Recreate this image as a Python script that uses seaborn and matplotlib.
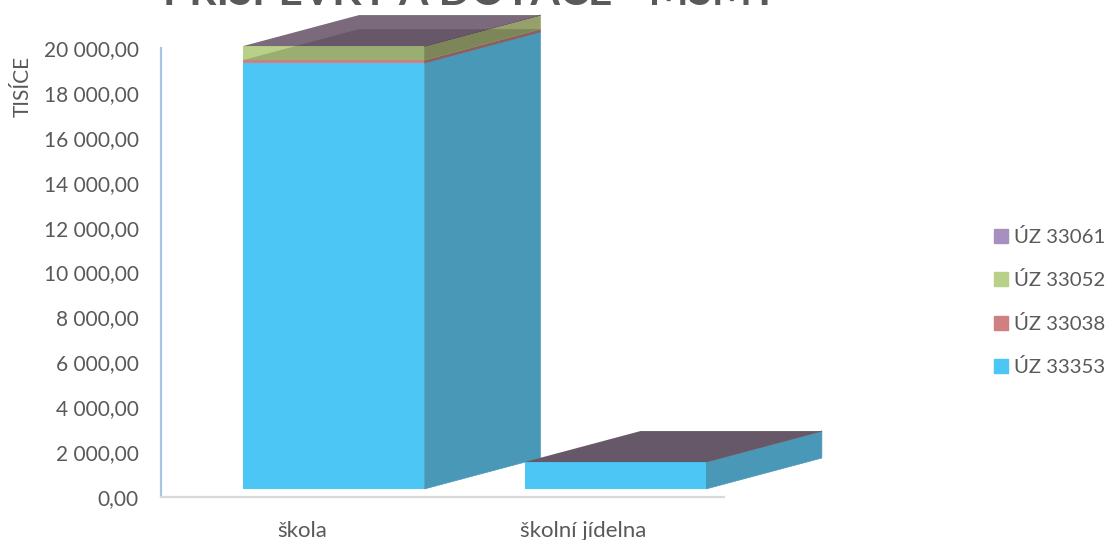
import matplotlib
matplotlib.use("Agg")
import matplotlib.pyplot as plt
from matplotlib.patches import Patch
import seaborn as sns

# Values
categories = ["škola", "školní jídelna"]
uz_33353 = [18975, 1200]
uz_33038 = [130, 0]
uz_33052 = [620, 0]
uz_33061 = [5, 0]
series_names = ["ÚZ 33353", "ÚZ 33038", "ÚZ 33052", "ÚZ 33061"]
y_ticks = [0, 2000, 4000, 6000, 8000, 10000, 12000, 14000, 16000, 18000, 20000]
y_tick_labels = ["0,00", "2 000,00", "4 000,00", "6 000,00", "8 000,00", "10 000,00",
                 "12 000,00", "14 000,00", "16 000,00", "18 000,00", "20 000,00"]

front_colors = ["#4BC6F5", "#D08080", "#B9D088", "#A78FC0"]
side_colors = ["#4A98B8", "#8C5E5E", "#95A06A", "#6B5B6E"]
top_color = "#7A6A7C"
text_color = "#595959"

W, H = 1108, 540
sns.set_theme(style="white")
plt.rcParams["font.family"] = ["Lato", "DejaVu Sans"]

fig = plt.figure(figsize=(W / 100, H / 100), dpi=100)


def px_rect(x0, x1, y_top, y_bottom):
    return [x0 / W, 1 - y_bottom / H, (x1 - x0) / W, (y_bottom - y_top) / H]


# Back plane carries the axes, front plane carries the bars
ax = fig.add_axes(px_rect(161, 724, 48, 497))
ax_bar = fig.add_axes(px_rect(193, 756, 40, 489))
ax_bar.patch.set_alpha(0)

series = [uz_33353, uz_33038, uz_33052, uz_33061]
bar_width = 0.644
depth_x = 0.412
depth_y = 1380

bottoms = [0, 0]
for vals, color, side in zip(series, front_colors, side_colors):
    sns.barplot(x=categories, y=vals, bottom=bottoms, color=color, saturation=1,
                width=bar_width, linewidth=0, zorder=2, ax=ax_bar)
    for i, v in enumerate(vals):
        right = i + bar_width / 2
        # side face of this segment
        ax_bar.fill([right, right + depth_x, right + depth_x, right],
                    [bottoms[i], bottoms[i] + depth_y, bottoms[i] + v + depth_y, bottoms[i] + v],
                    color=side, lw=0.5, zorder=1, clip_on=False)
    bottoms = [b + v for b, v in zip(bottoms, vals)]

for i in range(len(categories)):
    left = i - bar_width / 2
    right = i + bar_width / 2
    # top face of the whole stack
    total = bottoms[i]
    ax_bar.fill([left, right, right + depth_x, left + depth_x],
                [total, total, total + depth_y, total + depth_y],
                color=top_color, lw=0, zorder=3, clip_on=False)
    # top face of the lower segments shows through as a darker shade
    lower = uz_33353[i] + uz_33038[i]
    ax_bar.fill([left, right, right + depth_x, left + depth_x],
                [lower, lower, lower + depth_y, lower + depth_y],
                color="black", alpha=0.16, lw=0, zorder=4, clip_on=False)

ax_bar.set_xlim(-0.5, 1.5)
ax_bar.set_ylim(0, 20000)
ax_bar.axis("off")

ax.set_xlim(-0.5, 1.5)
ax.set_ylim(0, 20000)
ax.set_xticks([0, 1], categories)
ax.set_yticks(y_ticks, y_tick_labels)
ax.tick_params(axis="x", length=0, pad=17, labelsize=16, labelcolor=text_color)
ax.tick_params(axis="y", length=0, pad=16, labelsize=15, labelcolor=text_color)
ax.set_ylabel("TISÍCE", fontsize=15, color=text_color)
ax.yaxis.set_label_coords(-0.227, 0.915)
ax.patch.set_alpha(0)
sns.despine(ax=ax)
ax.spines["left"].set_color("#A9C4E4")
ax.spines["left"].set_linewidth(1.6)
ax.spines["bottom"].set_color("#D9D9D9")
ax.spines["bottom"].set_linewidth(1.6)

handles = [Patch(color=c, label=n) for c, n in zip(front_colors, series_names)][::-1]
fig.legend(handles=handles, loc="center left", bbox_to_anchor=(994 / W, 1 - 302 / H),
           frameon=False, fontsize=14.7, labelcolor=text_color, handlelength=0.68,
           handleheight=0.68, handletextpad=0.3, labelspacing=1.25, borderpad=0,
           borderaxespad=0)

fig.text(470 / W, 1 - 5 / H, "PŘÍSPĚVKY A DOTACE - MŠMT", ha="center", va="baseline",
         fontsize=30.5, fontweight="bold", color=text_color)

fig.savefig("out.png", dpi=100)
